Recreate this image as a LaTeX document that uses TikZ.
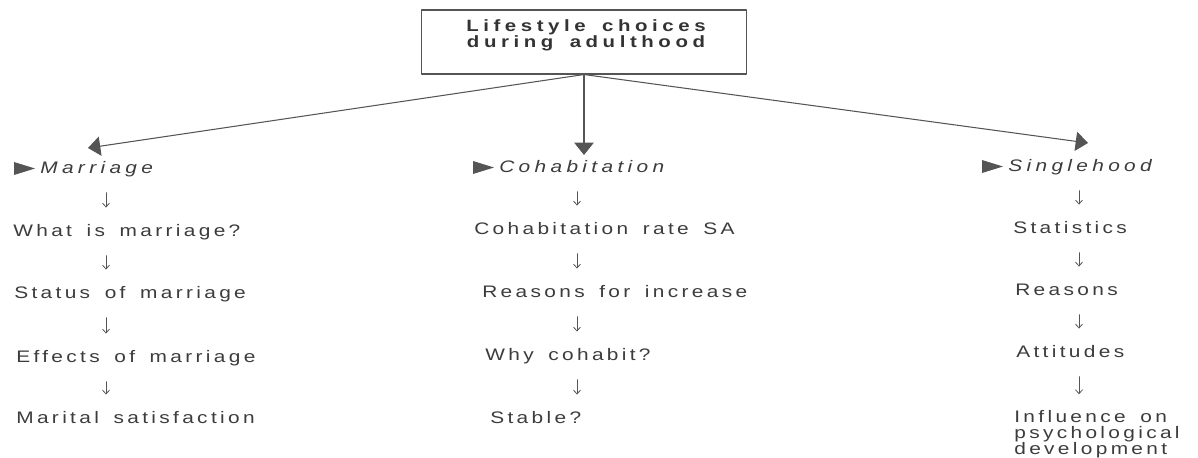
\documentclass[tikz,border=0pt]{standalone}
\usepackage{fontspec}
\setmainfont{Liberation Sans}
\newfontfamily\itemfont{Liberation Sans}[FakeStretch=1.25, LetterSpace=20, WordSpace=1.6]
\newfontfamily\headfont{Liberation Sans}[FakeStretch=1.25, LetterSpace=26, WordSpace=1.6]
\newfontfamily\titlefont{Liberation Sans}[FakeStretch=1.25, LetterSpace=28, WordSpace=1.6]
\usetikzlibrary{arrows.meta,calc}
\definecolor{inkgray}{RGB}{60,60,60}
\definecolor{linegray}{RGB}{85,85,85}
\tikzset{
  every node/.style={inner sep=0pt, text=inkgray},
  item/.style={anchor=base west, text height=7pt, text depth=2pt,
    font=\itemfont\fontsize{9.5pt}{9.2pt}\selectfont},
  head item/.style={item, font=\headfont\itshape\fontsize{9.5pt}{9.2pt}\selectfont},
  title box/.style={draw=linegray, line width=0.6pt, minimum width=6.52cm, minimum height=1.28cm},
  title text/.style={align=center, text=black!80,
    font=\titlefont\bfseries\fontsize{9.3pt}{9.1pt}\selectfont},
  branch/.style={draw=linegray, line width=0.6pt, -{Triangle[length=7pt,width=11pt]}},
  down arrow/.style={draw=linegray, line width=0.45pt, shorten <=9pt, shorten >=9pt,
    -{Straight Barb[length=2.2pt,width=4pt]}}
}

\begin{document}
\begin{tikzpicture}[x=0.02cm, y=-0.02cm, line cap=round, line join=round]
  \useasboundingbox (0,0) rectangle (1198,457);

  \node[title box] (title) at (584,42) {};
  \node[title text] (titletext) at (586,35) {Lifestyle choices\\during adulthood};

  % marriage
  \node[head item] (mar0) at (40,173) {Marriage};
  \node[item] (mar1) at (13,236) {What is marriage?};
  \node[item] (mar2) at (14,298) {Status of marriage};
  \node[item] (mar3) at (16,362) {Effects of marriage};
  \node[item] (mar4) at (16,423) {Marital satisfaction};

  % cohabitation
  \node[head item] (coh0) at (499,172) {Cohabitation};
  \node[item] (coh1) at (474,234) {Cohabitation rate SA};
  \node[item] (coh2) at (482,297) {Reasons for increase};
  \node[item] (coh3) at (485,360) {Why cohabit?};
  \node[item] (coh4) at (490,423) {Stable?};

  % singlehood
  \node[head item] (sin0) at (1008,171) {Singlehood};
  \node[item] (sin1) at (1013,233) {Statistics};
  \node[item] (sin2) at (1015,295) {Reasons};
  \node[item] (sin3) at (1016,357) {Attitudes};
  \node[item, anchor=north west, text height=, text depth=, align=left] (sin4) at (1014,410)
    {Influence on\\psychological\\development};

  \coordinate (mar-tip) at (88,148);
  \coordinate (coh-tip) at (584,155);
  \coordinate (sin-tip) at (1088,143);
  \coordinate (mar-col) at (106,0);
  \coordinate (coh-col) at (577,0);
  \coordinate (sin-col) at (1079,0);

  \foreach \br in {mar,coh,sin} {
    \draw[branch] (title.south) -- (\br-tip);
    \fill[linegray] ($(\br0.base west)+(-26,-11)$) -- ++(0,13) -- ++(21,-6.5) -- cycle;
    \foreach \i [evaluate=\i as \j using int(\i+1)] in {0,...,3}
      \draw[down arrow] (\br\i.south -| \br-col) -- (\br\j.north -| \br-col);
  }

\end{tikzpicture}
\end{document}
